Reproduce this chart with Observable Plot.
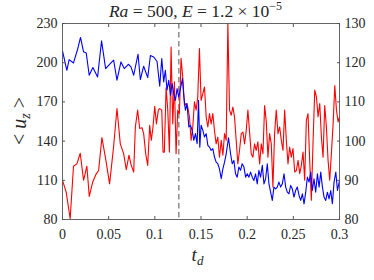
<!DOCTYPE html>
<html><head><meta charset="utf-8">
<script src="https://cdn.jsdelivr.net/npm/d3@7"></script>
<script src="https://cdn.jsdelivr.net/npm/@observablehq/plot@0.6"></script>
<style>body{margin:0;background:#fff} svg{display:block}</style>
</head><body><div id="chart"></div>
<script>
// Blue series (left axis)
const tBlue = [0,0.0047,0.0072,0.0119,0.0163,0.0195,0.0228,0.0257,0.0289,0.0329,0.038,0.0423,0.0467,0.0517,0.0554,0.059,0.0633,0.0669,0.0713,0.0742,0.0771,0.0818,0.0843,0.0879,0.0923,0.0952,0.0988,0.1024,
0.1053,0.1075,0.1096,0.1114,0.1132,0.1151,0.1169,0.1187,0.1205,0.1223,0.1241,0.1259,0.1277,0.1299,0.1313,0.1331,0.1349,0.1368,0.1386,0.1404,0.1422,0.144,0.1458,0.1473,0.1487,0.1501,
0.152,0.1538,0.1556,0.1574,0.1592,0.161,0.1628,0.1646,0.1664,0.1682,0.17,0.1719,0.1737,0.1755,0.1773,0.1798,0.182,0.1838,0.1856,0.1874,0.1892,0.191,0.1928,0.1946,0.1965,0.1983,0.2001,0.2019,0.2037,0.2055,0.2073,0.2091,0.2109,0.2127,0.2145,0.2164,0.2182,0.22,0.2218,0.2236,0.2254,0.2272,0.229,0.2308,0.2326,0.2344,0.2363,0.2381,0.2399,0.2417,0.2435,0.2453,0.2471,0.2489,0.2507,0.2525,0.2543,0.2562,0.258,0.2598,0.2616,0.2634,0.2652,0.267,0.2688,0.2706,0.2724,0.2742,0.2761,0.2779,0.2797,0.2815,0.2833,0.2851,0.2869,0.2887,0.2905,0.2923,0.2941,0.296,0.2978,0.3];
const uBlue = [209,194.2,202.4,199.8,210.1,219.3,208.3,207.5,190.4,196.3,189.1,216.7,195.5,199.3,201.9,186.6,200.6,195.5,198.8,196.8,190.4,206.5,187.1,197.3,188.6,205.5,204.4,200.9,
182.0,203.2,185.3,194.2,178.9,186.6,175.1,184.0,176.3,171.2,180.2,173.8,180.2,187.8,175.1,163.6,168.7,150.8,152.1,148.2,140.6,145.7,138.0,171.2,135.4,152.1,
148.2,143.1,145.7,136.7,135.4,132.9,134.2,127.8,123.9,122.7,118.8,111.2,118.8,123.9,130.3,142.6,130.3,122.7,125.2,115.0,112.4,120.1,117.6,122.7,120.1,112.4,115.0,112.4,116.3,112.4,109.9,115.0,107.3,117.6,112.4,121.4,107.3,111.2,122.7,107.3,100.9,94.6,104.8,103.5,104.8,108.6,104.8,107.3,115.0,104.8,100.9,99.7,106.1,103.5,97.1,102.2,104.8,98.4,94.6,99.7,92.0,100.9,112.4,108.6,116.3,102.2,111.2,100.9,115.0,104.8,116.3,104.8,97.1,94.6,100.9,95.8,102.2,92.0,108.6,116.3,102.2,109.9];

// Red series (right axis)
const tRed = [0,0.004,0.0083,0.0119,0.0156,0.0192,0.0228,0.0264,0.029,0.0326,0.0362,0.0391,0.0427,0.047,0.051,0.0553,0.059,0.0626,0.0662,0.0691,0.072,0.0742,0.0771,0.0789,0.0814,0.0836,0.0861,0.0879,0.0901,0.0923,0.0944,0.0962,0.098,0.0999,0.1017,0.1038,0.1053,0.1075,0.1089,0.1103,0.1122,0.114,0.1158,0.1176,0.1194,0.1212,0.123,0.1248,0.1266,0.1284,0.1302,0.1321,0.1339,0.1357,0.1375,0.1393,0.1411,0.1429,0.1447,0.1465,0.1483,0.1501,
0.152,0.1538,0.1556,0.1574,0.1592,0.161,0.1628,0.1646,0.1664,0.1682,0.17,0.1719,0.1737,0.1755,0.1773,0.1791,0.1809,0.1827,0.1845,0.1863,0.1881,0.1899,0.1917,0.1936,0.1954,0.1972,0.199,0.2008,0.2026,0.2044,0.2062,0.208,0.2098,0.2116,0.2135,0.2153,0.2171,0.2189,0.2207,0.2225,0.2243,0.2261,0.2279,0.2297,0.2315,0.2334,0.2352,0.237,0.2388,0.2406,0.2424,0.2442,0.246,0.2478,0.2496,0.2515,0.2533,0.2551,0.2569,0.2587,0.2605,0.2623,0.2641,0.2659,0.2677,0.2695,0.2713,0.2732,0.275,0.2768,0.2786,0.2804,0.2822,0.284,0.2858,0.2876,0.2894,0.2912,0.2931,0.2949,0.2967,0.2985,0.3];
const uRed = [90,87,80.2,93.6,94.2,96.9,90.0,93.6,85.9,89.5,91.5,92.5,100.9,95.1,89.1,98.5,108.3,99.3,96.8,92.7,96.4,94.0,92.1,103.6,107.9,103.2,103.4,101.9,96.8,93.8,104.0,100.2,103.6,108.9,104.4,107.9,108.3,107.9,97.2,97.2,113.6,107.9,97.2,124.0,104.4,115.1,96.8,107.9,107.0,121.1,116.4,109.1,109.6,108.7,106.2,100.2,103.6,110.0,107.9,111.3,123.6,110.4,
112.1,113.8,106.2,103.6,107.0,104.4,107.0,102.7,99.3,101.0,95.9,100.2,96.4,101.9,100.2,130,107.9,106.6,108.7,106.2,100.2,94.2,97.6,101.9,102.3,99.3,102.7,107.9,102.3,96.8,95.9,99.3,97.6,99.8,94.2,99.3,96.8,109.1,104.9,95.9,101.9,99.3,88.3,101.9,107.9,101.9,103.6,100.2,97.6,107.9,100.2,94.2,98.5,95.9,98.1,92.1,92.5,95.1,91.7,93.8,97.2,90.0,105.3,107.0,95.1,84.9,99.3,113.0,111.3,106.2,109.6,101.0,95.9,109.1,103.6,95.1,90.0,96.8,104.4,114.2,107.9,104.9,106.2];

const xTicks = [0,0.05,0.1,0.15,0.2,0.25,0.3];
const xTickLabels = ["0","0.05","0.1","0.15","0.2","0.25","0.3"];
const leftTicks = [80,110,140,170,200,230];
const rightTicks = [80,90,100,110,120,130];
const tMarker = 0.126;

const blue = tBlue.map((t,i)=>({t, u:uBlue[i]}));
const red = tRed.map((t,i)=>({t, u:uRed[i]}));
// right axis (80..130) mapped onto the left axis (80..230)
const toLeft = v => 80 + (v - 80) * 3;

const W = 374, H = 280, mL = 62, mR = 35, mT = 23, mB = 61;
const chart = Plot.plot({
  width: W, height: H,
  marginLeft: mL, marginRight: mR, marginTop: mT, marginBottom: mB,
  style: {fontFamily: "'Liberation Serif', serif", fontSize: "14px", color: "#262626", background: "#fff", overflow: "visible"},
  x: {domain: [0, 0.3]},
  y: {domain: [80, 230]},
  marks: [
    Plot.ruleX([tMarker], {stroke: "#6e6e6e", strokeDasharray: "5.5,3.5", strokeWidth: 1.2}),
    Plot.line(red, {x: "t", y: d => toLeft(d.u), stroke: "#ff0000", strokeWidth: 1.1}),
    Plot.line(blue, {x: "t", y: "u", stroke: "#0000ff", strokeWidth: 1.1}),
    Plot.frame({stroke: "#555", strokeWidth: 0.9}),
    Plot.axisX(xTicks, {anchor: "bottom", tickSize: -3, tickPadding: 13, stroke: "#555", tickFormat: d => xTickLabels[xTicks.indexOf(d)], label: null}),
    Plot.axisX(xTicks, {anchor: "top", tickSize: -3, stroke: "#555", tickFormat: d => "", label: null}),
    Plot.axisY(leftTicks, {anchor: "left", tickSize: -3, tickPadding: 8, stroke: "#555", tickFormat: d => String(d), label: null}),
    Plot.axisY(leftTicks, {anchor: "right", tickSize: -3, tickPadding: 8, stroke: "#555", tickFormat: d => String(rightTicks[leftTicks.indexOf(d)]), label: null})
  ]
});
document.getElementById("chart").append(chart);

const svg = d3.select(chart);
const cx = mL + (W - mL - mR) / 2;
// Title
const title = svg.append("text").attr("x", cx - 5).attr("y", 17).attr("text-anchor", "middle")
  .style("font-family", "'Liberation Serif', serif").style("font-size", "17.5px").attr("fill", "#262626");
title.append("tspan").style("font-style", "italic").text("Ra");
title.append("tspan").text(" = 500, ");
title.append("tspan").style("font-style", "italic").text("E");
title.append("tspan").text(" = 1.2 × 10");
title.append("tspan").attr("dy", -7).style("font-size", "12px").text("−5");
// x label
const xl = svg.append("text").attr("x", cx - 3).attr("y", 261).attr("text-anchor", "middle")
  .style("font-family", "'Liberation Serif', serif").style("font-size", "19px").attr("fill", "#262626");
xl.append("tspan").style("font-style", "italic").text("t");
xl.append("tspan").attr("dy", 4).style("font-style", "italic").style("font-size", "13px").text("d");
// y label
const yl = svg.append("text").attr("transform", `translate(26,${mT + (H - mT - mB) / 2}) rotate(-90)`).attr("text-anchor", "middle")
  .style("font-family", "'Liberation Serif', serif").style("font-size", "20px").attr("fill", "#262626");
yl.append("tspan").text("< ");
yl.append("tspan").style("font-style", "italic").text("u");
yl.append("tspan").attr("dy", 4).style("font-style", "italic").style("font-size", "14px").text("z");
yl.append("tspan").attr("dy", -4).text(" >");
</script>
</body></html>
